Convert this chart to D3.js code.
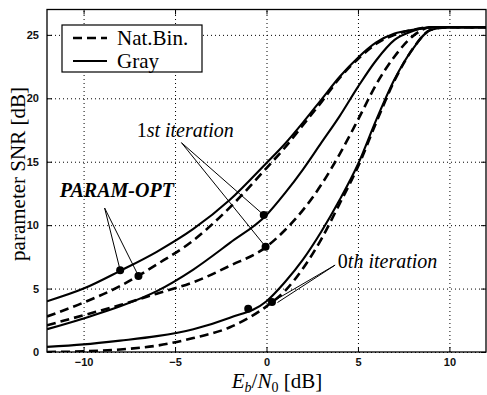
<!DOCTYPE html>
<html lang='en'>
<head>
  <meta charset='UTF-8'>
  <title>parameter SNR vs Eb/N0</title>
  <style>
  body {
    margin: 0;
    background: white;
  }
  .tick text {
    font-family: 'Liberation Sans', Arial, sans-serif;
    font-size: 11px;
    font-weight: bold;
    fill: #111;
  }
  .tick line {
    stroke: black;
  }
  .axis path {
    display: none;
  }
  .grid line {
    stroke: black;
    stroke-dasharray: 1, 3;
    stroke-width: 1;
  }
  .grid path {
    display: none;
  }
  .serif {
    font-family: 'Liberation Serif', 'Times New Roman', serif;
    fill: black;
  }
  </style>
  <script src='https://d3js.org/d3.v7.min.js'></script>
</head>
<body>
  <script>

  // data (x = Eb/N0 in dB, y = parameter SNR in dB)
  var ebn0 = [-12, -10, -8, -6, -4, -2, 0, 1, 2, 3, 4, 5, 6, 7, 8, 9, 10, 12];
  var paramOptGray = [4.0, 5.0, 6.4, 7.9, 9.7, 12.0, 14.9, 16.4, 18.1, 19.9, 21.7, 23.2, 24.4, 25.1, 25.4, 25.6, 25.6, 25.6];
  var paramOptNat  = [2.8, 3.9, 5.2, 6.9, 8.8, 11.4, 14.5, 16.1, 17.9, 19.7, 21.6, 23.1, 24.3, 25.0, 25.4, 25.6, 25.6, 25.6];
  var iter1Gray    = [1.8, 2.65, 3.6, 4.8, 6.5, 8.6, 10.8, 12.5, 14.4, 16.5, 18.6, 20.9, 23.0, 24.6, 25.3, 25.6, 25.6, 25.6];
  var iter1Nat     = [2.1, 2.9, 3.7, 4.6, 5.5, 6.8, 8.3, 9.6, 11.2, 13.2, 15.6, 18.3, 21.1, 23.3, 24.9, 25.6, 25.6, 25.6];
  var iter0Gray    = [0.4, 0.6, 0.9, 1.25, 1.8, 2.7, 4.0, 5.5, 7.3, 9.5, 12.0, 14.8, 18.3, 21.5, 23.9, 25.4, 25.6, 25.6];
  var iter0Nat     = [0.0, 0.05, 0.2, 0.5, 1.1, 1.95, 3.6, 4.8, 6.6, 8.9, 11.7, 14.6, 18.1, 21.4, 23.9, 25.4, 25.6, 25.6];

  var xTicks = [-10, -5, 0, 5, 10];
  var yTicks = [0, 5, 10, 15, 20, 25];

  // marked operating points [x, y]
  var markPoints = [[-8, 6.45], [-7, 6.0], [-0.15, 10.8], [-0.05, 8.3], [-1, 3.4], [0.3, 3.95]];

  // annotation texts with their pointer apex and targets
  var notes = [
    { label: 'PARAM-OPT', at: [-11.3, 12.2], apex: [-8.85, 11.35], to: [[-8, 6.45], [-7, 6.0]] },
    { label: '1st iteration', at: [-7.1, 16.95], apex: [-4.65, 16.5], to: [[-0.15, 10.8], [-0.05, 8.3]] },
    { label: '0th iteration', at: [3.9, 6.6], apex: [3.75, 6.85], to: [[0.3, 3.95], [0.6, 3.9]] }
  ];

  var legendNames = ['Nat.Bin.', 'Gray'];

  var svgWidth = 487;
  var svgHeight = 395;
  var margin = { top: 9.5, right: 1, bottom: 43, left: 47 };
  var width = svgWidth - margin.left - margin.right;
  var height = svgHeight - margin.top - margin.bottom;

  var svg = d3.select('body').append('svg')
    .attr('width', svgWidth)
    .attr('height', svgHeight);

  var g = svg.append('g').attr('transform', 'translate(' + margin.left + ',' + margin.top + ')');

  var x = d3.scaleLinear().domain([-12, 12]).range([0, width]);
  var y = d3.scaleLinear().domain([0, 27]).range([height, 0]);

  // dotted grid

  g.append('g')
    .attr('class', 'grid')
    .attr('transform', 'translate(0,' + height + ')')
    .call(d3.axisBottom(x).tickValues(xTicks).tickSize(-height).tickFormat(''));

  g.append('g')
    .attr('class', 'grid')
    .call(d3.axisLeft(y).tickValues(yTicks).tickSize(-width).tickFormat(''));

  // axes with inward ticks

  g.append('g')
    .attr('class', 'axis')
    .attr('transform', 'translate(0,' + height + ')')
    .call(d3.axisBottom(x).tickValues(xTicks).tickSizeInner(-5).tickSizeOuter(0).tickPadding(6));

  g.append('g')
    .attr('class', 'axis')
    .call(d3.axisLeft(y).tickValues(yTicks).tickSizeInner(-5).tickSizeOuter(0).tickPadding(8));

  g.append('g')
    .attr('class', 'axis')
    .call(d3.axisTop(x).tickValues(xTicks).tickSizeInner(-5).tickSizeOuter(0).tickFormat(''));

  g.append('g')
    .attr('class', 'axis')
    .attr('transform', 'translate(' + width + ',0)')
    .call(d3.axisRight(y).tickValues(yTicks).tickSizeInner(-5).tickSizeOuter(0).tickFormat(''));

  // curves

  g.append('clipPath').attr('id', 'plot-clip')
    .append('rect').attr('width', width).attr('height', height);

  var line = d3.line()
    .x(function (d) { return x(d[0]); })
    .y(function (d) { return y(d[1]); })
    .curve(d3.curveMonotoneX);

  var series = [
    { values: iter0Nat, dashed: true },
    { values: iter0Gray, dashed: false },
    { values: iter1Nat, dashed: true },
    { values: iter1Gray, dashed: false },
    { values: paramOptNat, dashed: true },
    { values: paramOptGray, dashed: false }
  ];

  var curves = g.append('g').attr('clip-path', 'url(#plot-clip)');

  series.forEach(function (s) {
    curves.append('path')
      .datum(ebn0.map(function (v, i) { return [v, s.values[i]]; }))
      .attr('fill', 'none')
      .attr('stroke', 'black')
      .attr('stroke-width', s.dashed ? 2.6 : 2.1)
      .attr('stroke-dasharray', s.dashed ? '9,5' : null)
      .attr('d', line);
  });

  // annotations

  notes.forEach(function (n) {
    n.to.forEach(function (t) {
      g.append('line')
        .attr('x1', x(n.apex[0])).attr('y1', y(n.apex[1]))
        .attr('x2', x(t[0])).attr('y2', y(t[1]))
        .attr('stroke', 'black')
        .attr('stroke-width', 1);
    });

    var txt = g.append('text')
      .attr('class', 'serif')
      .attr('x', x(n.at[0]))
      .attr('y', y(n.at[1]))
      .style('font-size', '20px');

    if (n.label === 'PARAM-OPT') {
      txt.style('font-style', 'italic').style('font-weight', 'bold').text(n.label);
    } else {
      txt.append('tspan').text(n.label.charAt(0));
      txt.append('tspan').style('font-style', 'italic').text(n.label.slice(1));
    }
  });

  g.selectAll('.mark')
    .data(markPoints)
    .enter()
    .append('circle')
    .attr('class', 'mark')
    .attr('cx', function (d) { return x(d[0]); })
    .attr('cy', function (d) { return y(d[1]); })
    .attr('r', 4)
    .attr('fill', 'black');

  // frame

  g.append('rect')
    .attr('width', width)
    .attr('height', height)
    .attr('fill', 'none')
    .attr('stroke', 'black')
    .attr('stroke-width', 1.3);

  // legend

  var legend = g.append('g').attr('transform', 'translate(' + (x(-12) + 15) + ',' + (y(27) + 15.5) + ')');

  legend.append('rect')
    .attr('width', 140)
    .attr('height', 47)
    .attr('fill', 'white')
    .attr('stroke', 'black')
    .attr('stroke-width', 1.2);

  legendNames.forEach(function (name, i) {
    var ly = 13 + i * 23;
    legend.append('line')
      .attr('x1', 11).attr('x2', 45)
      .attr('y1', ly).attr('y2', ly)
      .attr('stroke', 'black')
      .attr('stroke-width', i === 0 ? 2.6 : 2.1)
      .attr('stroke-dasharray', i === 0 ? '9,5' : null);
    legend.append('text')
      .attr('class', 'serif')
      .attr('x', 55)
      .attr('y', ly + 7)
      .style('font-size', '21px')
      .text(name);
  });

  // axis labels

  var xl = svg.append('text')
    .attr('class', 'serif')
    .attr('x', 277)
    .attr('y', 388)
    .attr('text-anchor', 'middle')
    .style('font-size', '21px');
  xl.append('tspan').style('font-style', 'italic').text('E');
  xl.append('tspan').attr('dy', 4).style('font-size', '14px').style('font-style', 'italic').text('b');
  xl.append('tspan').attr('dy', -4).text('/');
  xl.append('tspan').style('font-style', 'italic').text('N');
  xl.append('tspan').attr('dy', 4).style('font-size', '14px').text('0');
  xl.append('tspan').attr('dy', -4).text(' [dB]');

  svg.append('text')
    .attr('class', 'serif')
    .attr('transform', 'translate(25,174) rotate(-90)')
    .attr('text-anchor', 'middle')
    .style('font-size', '21px')
    .text('parameter SNR [dB]');
  </script>
</body>
</html>
